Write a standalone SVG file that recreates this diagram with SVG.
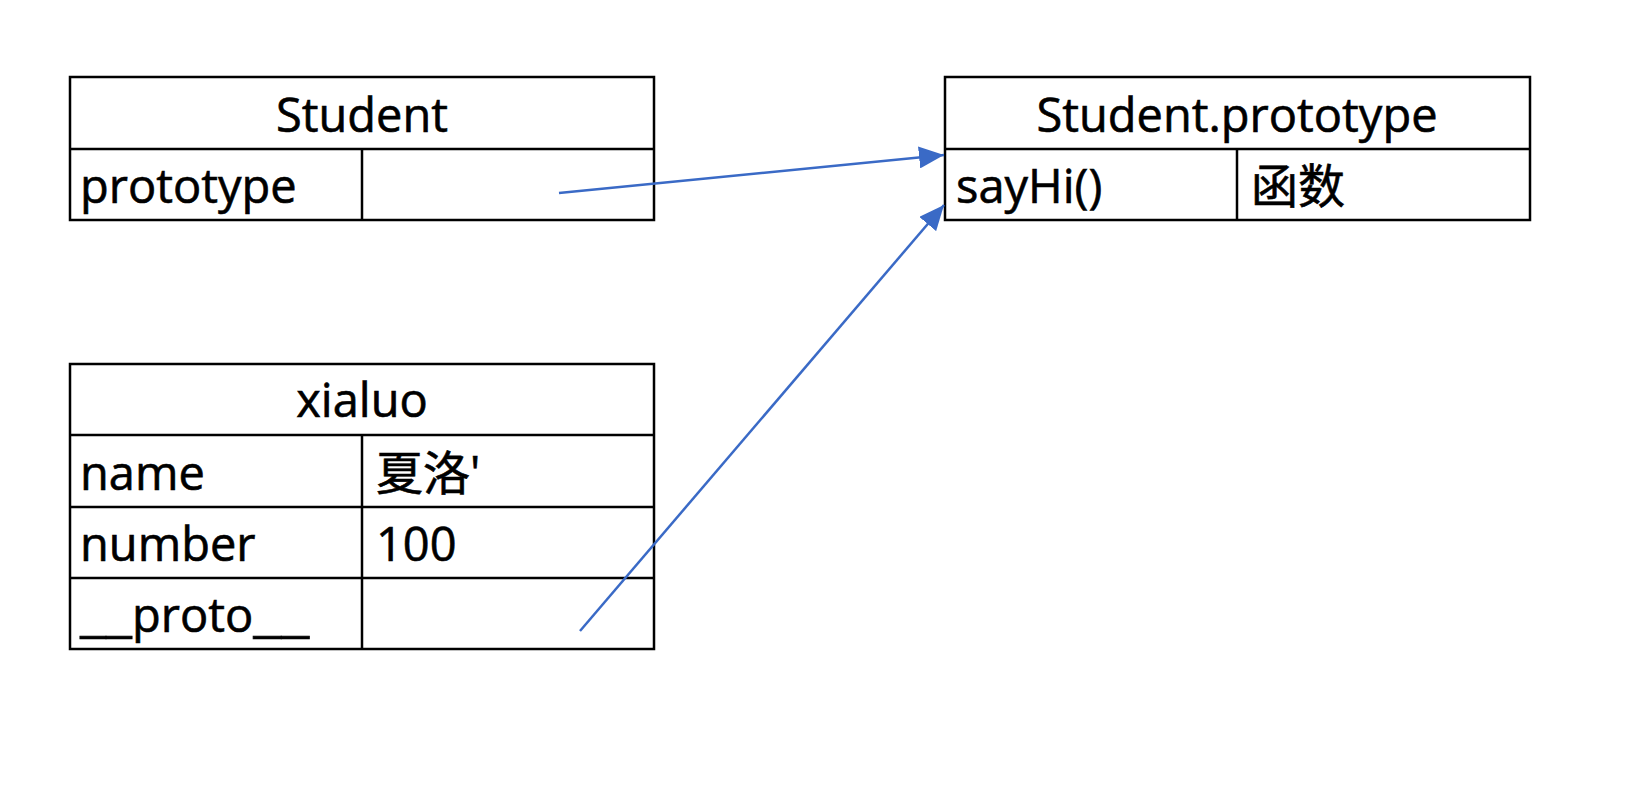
<svg xmlns="http://www.w3.org/2000/svg" width="1636" height="786" viewBox="0 0 1636 786">
<style>
.box{fill:#fff;stroke:#000;stroke-width:2.5}
.ln{stroke:#000;stroke-width:2.5}
.t{font-family:"Open Sans","Noto Sans","Noto Sans CJK SC",sans-serif;font-size:47px;fill:#000;stroke:#000;stroke-width:0.6}
.c{text-anchor:middle}
.conn{stroke:#3a6ac6;stroke-width:2.5;fill:none}
</style>
<defs>
<marker id="ah" viewBox="0 0 25 22" refX="25" refY="11" markerWidth="25" markerHeight="22" markerUnits="userSpaceOnUse" orient="auto">
<path d="M0,0 L25,11 L0,22 z" fill="#3a6ac6"/>
</marker>
</defs>
<rect width="1636" height="786" fill="#fff"/>
<g id="student">
<rect class="box" x="70" y="77" width="584" height="143"/>
<line class="ln" x1="70" y1="149" x2="654" y2="149"/>
<line class="ln" x1="362" y1="149" x2="362" y2="220"/>
<text class="t c" x="362" y="132">Student</text>
<text class="t" x="80" y="203">prototype</text>
</g>
<g id="student-prototype">
<rect class="box" x="945" y="77" width="585" height="143"/>
<line class="ln" x1="945" y1="149" x2="1530" y2="149"/>
<line class="ln" x1="1237" y1="149" x2="1237" y2="220"/>
<text class="t c" x="1237" y="132">Student.prototype</text>
<text class="t" x="956" y="203">sayHi()</text>
<text class="t" x="1251" y="203">函数</text>
</g>
<g id="xialuo">
<rect class="box" x="70" y="364" width="584" height="285"/>
<line class="ln" x1="70" y1="435" x2="654" y2="435"/>
<line class="ln" x1="70" y1="507" x2="654" y2="507"/>
<line class="ln" x1="70" y1="578" x2="654" y2="578"/>
<line class="ln" x1="362" y1="435" x2="362" y2="649"/>
<text class="t c" x="362" y="417">xialuo</text>
<text class="t" x="80" y="490">name</text>
<text class="t" x="376" y="490">夏洛'</text>
<text class="t" x="80" y="561">number</text>
<text class="t" x="376" y="561">100</text>
<text class="t" x="80" y="632"><tspan textLength="52" lengthAdjust="spacingAndGlyphs">__</tspan><tspan>proto</tspan><tspan textLength="56" lengthAdjust="spacingAndGlyphs">__</tspan></text>
</g>
<g id="connectors">
<line class="conn" x1="559" y1="193" x2="944" y2="155" marker-end="url(#ah)"/>
<line class="conn" x1="580" y1="631" x2="944" y2="205" marker-end="url(#ah)"/>
</g>
</svg>
